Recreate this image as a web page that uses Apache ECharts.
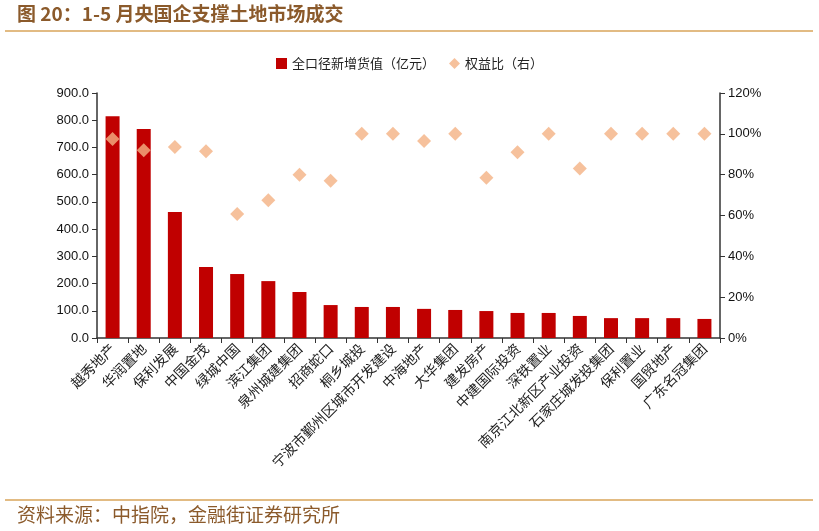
<!DOCTYPE html>
<html>
<head>
<meta charset="utf-8">
<script src="https://cdn.jsdelivr.net/npm/echarts@6/dist/echarts.min.js"></script>
<style>
  html, body { margin: 0; padding: 0; background: #fff; }
  #main { width: 819px; height: 531px; }
</style>
</head>
<body>
<div id="main"></div>
<script>
// 数据
const categories = ['越秀地产', '华润置地', '保利发展', '中国金茂', '绿城中国', '滨江集团', '泉州城建集团', '招商蛇口', '桐乡城投',
  '宁波市鄞州区城市开发建设', '中海地产', '大华集团', '建发房产', '中建国际投资', '深铁置业', '南京江北新区产业投资',
  '石家庄城发投集团', '保利置业', '国贸地产', '广东名冠集团'];
const amount = [815, 768, 463, 261, 235, 209, 169, 121, 114, 114, 107, 103, 99, 92, 92, 81, 73, 73, 73, 70];
const ratio = [97.5, 92, 93.5, 91.5, 60.7, 67.5, 80, 77, 100, 100, 96.5, 100, 78.5, 91, 100, 83, 100, 100, 100, 100];

const chart = echarts.init(document.getElementById('main'));
const cjk = '"Noto Sans CJK SC", sans-serif';
const brown = '#8B5A2B';
const gold = '#D9A55A';

chart.setOption({
  animation: false,
  graphic: [
    { type: 'text', left: 17, top: 4, style: { text: '图 20：1-5 月央国企支撑土地市场成交', font: 'bold 19px ' + cjk, fill: brown } },
    { type: 'line', shape: { x1: 5, y1: 31, x2: 813, y2: 31 }, style: { stroke: gold, lineWidth: 1.5 } },
    { type: 'line', shape: { x1: 5, y1: 500, x2: 813, y2: 500 }, style: { stroke: gold, lineWidth: 1.5 } },
    { type: 'text', left: 17, top: 505, style: { text: '资料来源：中指院，金融街证券研究所', font: '19px ' + cjk, fill: brown } }
  ],
  legend: {
    top: 52, left: 'center',
    itemWidth: 11, itemHeight: 11, itemGap: 14,
    textStyle: { fontFamily: cjk, fontSize: 13, color: '#222' },
    data: [
      { name: '全口径新增货值（亿元）', icon: 'rect' },
      { name: '权益比（右）', icon: 'diamond' }
    ]
  },
  grid: { left: 97, right: 99, top: 93, bottom: 193, containLabel: false },
  xAxis: {
    type: 'category',
    data: categories,
    axisLine: { lineStyle: { color: '#333', width: 1.5 } },
    axisTick: { show: true, alignWithLabel: false, length: 5, lineStyle: { color: '#333' } },
    axisLabel: { interval: 0, rotate: 45, fontFamily: cjk, fontSize: 14, color: '#222', margin: 8 }
  },
  yAxis: [
    {
      type: 'value', min: 0, max: 900, interval: 100,
      axisLine: { show: true, lineStyle: { color: '#333', width: 1.5 } },
      axisTick: { show: true, length: 5, lineStyle: { color: '#333' } },
      splitLine: { show: false },
      axisLabel: { formatter: v => v.toFixed(1), fontFamily: 'Liberation Sans, Arial', fontSize: 13, color: '#111', margin: 8 }
    },
    {
      type: 'value', min: 0, max: 120, interval: 20,
      axisLine: { show: true, lineStyle: { color: '#333', width: 1.5 } },
      axisTick: { show: true, length: 5, lineStyle: { color: '#333' } },
      splitLine: { show: false },
      axisLabel: { formatter: '{value}%', fontFamily: 'Liberation Sans, Arial', fontSize: 13, color: '#111', margin: 8 }
    }
  ],
  series: [
    {
      name: '全口径新增货值（亿元）',
      type: 'bar',
      data: amount,
      barWidth: 14,
      itemStyle: { color: '#C00000' }
    },
    {
      name: '权益比（右）',
      type: 'scatter',
      yAxisIndex: 1,
      data: ratio,
      symbol: 'diamond',
      symbolSize: 14,
      itemStyle: { color: '#F4B183' }
    }
  ]
});
</script>
</body>
</html>
